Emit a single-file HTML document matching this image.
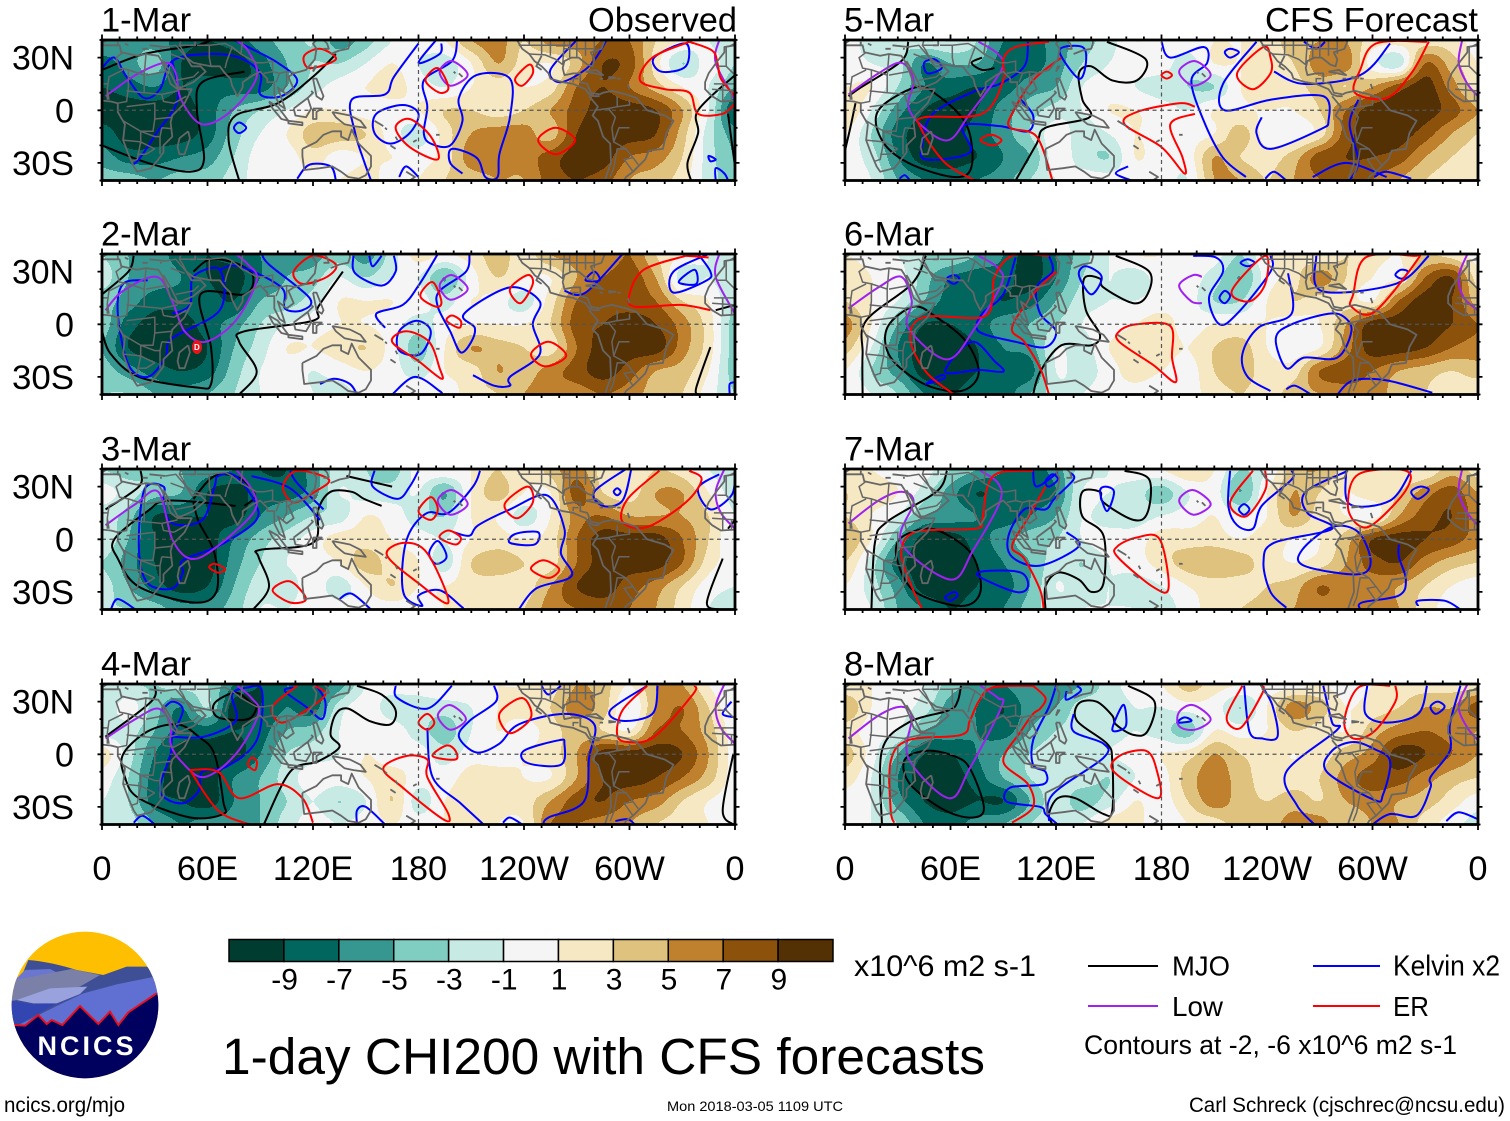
<!DOCTYPE html>
<html lang="en"><head><meta charset="utf-8"><title>1-day CHI200 with CFS forecasts</title>
<style>html,body{margin:0;padding:0;background:#fff}svg{display:block}text{font-family:"Liberation Sans",sans-serif;fill:#000}</style></head>
<body>
<svg id="chart" xmlns="http://www.w3.org/2000/svg" width="1510" height="1121" viewBox="0 0 1510 1121">
<rect width="1510" height="1121" fill="#fff"/>
<g id="panels"></g>
<g id="colorbar"></g>
<text x="854" y="976" font-size="30" textLength="182" lengthAdjust="spacingAndGlyphs">x10^6 m2 s-1</text>
<text x="222" y="1074" font-size="51" textLength="763" lengthAdjust="spacingAndGlyphs">1-day CHI200 with CFS forecasts</text>
<g>
<line x1="1088" x2="1158" y1="966" y2="966" stroke="#000" stroke-width="2"/>
<text x="1172" y="975.5" font-size="28" textLength="58" lengthAdjust="spacingAndGlyphs">MJO</text>
<line x1="1313" x2="1380" y1="966" y2="966" stroke="#0000ff" stroke-width="2"/>
<text x="1393" y="975.5" font-size="29" textLength="107" lengthAdjust="spacingAndGlyphs">Kelvin x2</text>
<line x1="1088" x2="1158" y1="1006" y2="1006" stroke="#a020f0" stroke-width="2"/>
<text x="1172" y="1016" font-size="28" textLength="51" lengthAdjust="spacingAndGlyphs">Low</text>
<line x1="1313" x2="1380" y1="1006" y2="1006" stroke="#ff0000" stroke-width="2"/>
<text x="1393" y="1016" font-size="28" textLength="36" lengthAdjust="spacingAndGlyphs">ER</text>
<text x="1084" y="1054" font-size="27" textLength="373" lengthAdjust="spacingAndGlyphs">Contours at -2, -6 x10^6 m2 s-1</text>
</g>
<text x="1189" y="1112" font-size="21" textLength="316" lengthAdjust="spacingAndGlyphs">Carl Schreck (cjschrec@ncsu.edu)</text>
<text x="4" y="1112" font-size="21" textLength="121" lengthAdjust="spacingAndGlyphs">ncics.org/mjo</text>
<text x="667" y="1111" font-size="14" textLength="176" lengthAdjust="spacingAndGlyphs">Mon 2018-03-05 1109 UTC</text>
<g>
<defs><clipPath id="logoClip"><circle cx="255" cy="240" r="220"/></clipPath></defs>
<g transform="translate(0,925) scale(0.33333)" clip-path="url(#logoClip)">
<rect x="0" y="0" width="520" height="500" fill="#fdbf00"/>
<path d="M20 260L85 105Q150 110 230 135L310 150L380 125L440 125L500 160V320H20Z" fill="#3f4f96"/>
<path d="M50 160L75 135L150 132L195 155L120 165L45 170Z" fill="#6a76d0"/>
<path d="M25 230L45 165L120 150L215 132L300 150L240 185L150 205Z" fill="#7b80a8"/>
<path d="M20 225L100 238L175 232L45 305H20Z" fill="#3345b0"/>
<path d="M45 305L180 238L250 205L350 178L465 155L490 210V320H45Z" fill="#6070d2"/>
<path d="M50 225L150 190L262 185L240 207L170 235L100 235Z" fill="#9aa2de"/>
<path d="M0 300H42L75 302L115 270L140 297L155 285L187 300L240 243L295 297L330 260L355 300L385 262L470 205L510 190V500H0Z" fill="#00005f"/>
<path d="M42 300L75 302L115 270L140 297L155 285L187 300L240 243L295 297L330 260L355 300L385 262L470 205" fill="none" stroke="#e81020" stroke-width="6"/>
</g>
<text x="87" y="1055" font-size="27" font-weight="bold" text-anchor="middle" letter-spacing="3" style="fill:#fff">NCICS</text>
</g>
</svg>
<script>
// Velocity potential anomaly grids: rows 40N..40S (7), columns 0..360 every 15 degrees (25)
const field1Mar=[
[-5,-6,-6,-8,-9,-8,-6,-4,-3,-6,-4,-1,0,1,5,6,3,6,6,7,7,3,1,-1,-3],
[-8,-6,-4,-9,-10,-10,-8,-5,-3,-3,-1,1,-1,-2,1,5,2,1,4,9,8,2,-3,0,-3],
[-9,-8,-7,-9,-8,-8,-8,-5,-2,0,1,2,0,-1,1,2,1,2,7,9,7,4,1,-1,-5],
[-10,-10,-10,-10,-8,-5,-3,-1,1,1,0,0,1,3,3,2,3,5,8,10,10,9,5,-1,-9],
[-8,-10,-10,-10,-8,-4,-1,1,4,4,3,0,-2,2,5,6,6,4,9,10,10,9,4,-2,-6],
[-6,-8,-8,-7,-6,-3,0,0,2,0,1,1,0,2,6,6,6,8,10,10,7,6,3,-2,-5],
[-4,-4,-5,-4,-4,-2,0,1,0,1,2,0,1,3,4,5,5,8,9,8,5,4,2,-2,-4]];
const field2Mar=[
[-3,-5,-6,-8,-9,-8,-7,-6,-6,-4,-6,-2,2,1,2,4,2,5,6,5,7,3,1,-1,-3],
[-2,-5,-6,-7,-9,-10,-7,-5,-4,-1,-3,-1,-1,-5,0,3,1,1,5,7,8,5,-2,-1,-3],
[-4,-6,-8,-8,-8,-9,-5,-4,-2,1,1,1,0,-2,1,0,-2,2,7,8,8,7,3,1,-3],
[-4,-8,-10,-10,-8,-6,-3,-1,0,1,1,0,-2,0,1,1,1,3,8,9,10,9,6,2,-4],
[-5,-9,-10,-10,-9,-5,-2,1,1,2,3,0,-4,1,5,4,3,2,7,10,10,10,6,2,-4],
[-4,-6,-8,-9,-8,-4,-1,0,-1,0,1,0,-2,1,2,5,4,6,8,10,8,5,4,1,-4],
[-3,-3,-5,-6,-5,-3,-1,0,-1,-2,0,0,1,0,2,3,5,6,6,7,6,4,3,0,-3]];
const field3Mar=[
[-3,-4,-3,-5,-6,-7,-9,-9,-6,-2,-3,-4,0,1,1,3,1,4,6,2,1,3,2,-1,-2],
[0,-2,-4,-5,-9,-10,-8,-8,-6,-1,-2,-2,-1,-5,1,4,1,1,8,3,2,5,5,1,-2],
[-2,-4,-9,-9,-9,-10,-7,-5,-3,-2,1,0,-2,-3,1,1,-2,1,6,7,5,5,5,3,-1],
[-1,-5,-9,-10,-10,-7,-4,-2,0,2,2,1,0,-1,1,2,1,2,7,10,10,10,7,3,-1],
[-3,-6,-9,-10,-10,-6,-3,-1,0,1,4,2,1,-2,3,4,3,2,7,10,10,10,7,2,0],
[-2,-5,-8,-10,-9,-5,-2,-2,0,-2,1,3,1,1,2,2,2,5,9,10,8,6,3,0,-1],
[-3,-3,-4,-6,-6,-4,-1,-1,0,0,0,0,0,1,1,2,3,6,7,8,7,5,2,-1,-2]];
const field4Mar=[
[-3,-3,-3,-2,-3,-7,-9,-7,-8,-6,-1,0,0,1,1,1,1,2,5,4,1,5,5,1,-1],
[-3,0,-4,-7,-3,-10,-9,-7,-8,-2,0,-2,-2,-2,-1,1,2,3,6,4,-1,5,7,3,-1],
[-2,-2,-5,-8,-8,-9,-8,-5,-4,-1,0,0,-2,-4,-1,1,0,2,4,3,1,7,7,4,0],
[2,-2,-7,-10,-10,-10,-7,-3,-2,-1,1,0,0,-2,0,0,1,2,5,10,10,10,9,5,0],
[0,-3,-8,-10,-10,-7,-5,-2,0,0,1,2,0,0,2,2,1,1,5,9,10,9,7,4,0],
[-1,-3,-8,-9,-10,-7,-5,-3,-1,-3,-1,3,-2,1,2,2,2,5,8,9,7,6,3,1,0],
[-2,-2,-5,-7,-6,-6,-5,-2,0,-1,0,1,0,1,3,1,1,7,7,6,5,3,2,1,0]];
const field5Mar=[
[0,-2,-3,-1,-1,-3,-7,-8,-6,-4,-2,1,0,0,1,1,2,4,5,5,2,2,2,2,0],
[0,-1,-2,-7,-5,-5,-8,-8,-6,-3,-1,0,0,-2,1,1,2,3,6,6,0,-2,7,4,1],
[1,1,-3,-7,-8,-9,-8,-6,-5,-1,0,-1,-2,-3,-3,1,2,2,4,3,5,8,10,6,2],
[3,-1,-6,-9,-10,-9,-6,-4,-2,-1,1,1,0,-1,1,1,1,1,3,7,10,10,10,8,5],
[1,-3,-8,-10,-10,-8,-6,-3,0,-2,-1,1,0,0,1,4,0,0,2,8,10,10,8,5,3],
[0,-2,-7,-10,-10,-9,-7,-5,0,-2,-3,1,0,0,5,3,2,4,8,9,9,8,5,3,2],
[0,-1,-5,-7,-8,-7,-6,-3,-1,0,0,0,0,-1,5,5,3,5,7,8,7,5,3,2,1]];
const field6Mar=[
[1,0,-1,-3,-3,-5,-7,-10,-7,-4,-1,1,1,0,0,-3,1,2,1,3,2,1,3,2,0],
[3,1,0,-4,-7,-8,-8,-10,-7,-3,-1,-2,0,0,-2,-5,0,2,6,3,1,1,7,9,2],
[3,1,-1,-5,-8,-8,-9,-8,-5,-2,-1,-1,0,0,-3,-3,1,3,2,2,1,7,10,9,4],
[6,1,-5,-9,-9,-8,-6,-5,-3,-1,0,1,2,0,1,1,1,0,1,5,10,10,10,9,7],
[4,-1,-7,-10,-10,-9,-7,-6,-1,-2,1,2,2,1,3,4,1,0,1,6,10,10,9,7,6],
[1,-3,-6,-10,-10,-9,-8,-8,-1,-2,0,2,1,0,3,4,2,2,7,8,7,5,4,3,4],
[1,-1,-3,-7,-9,-8,-8,-5,-2,-1,0,0,-1,0,2,3,2,4,5,6,6,4,3,2,1]];
const field7Mar=[
[1,1,0,0,-3,-5,-7,-8,-6,-2,-1,0,1,3,1,-3,-1,4,5,2,1,1,1,4,2],
[3,2,1,-2,-6,-9,-8,-8,-7,-1,-1,-2,-4,-1,0,-5,1,5,3,1,2,3,6,8,5],
[3,1,-1,-5,-6,-7,-8,-7,-5,-1,-2,-2,-1,0,1,-1,1,5,2,1,0,5,8,9,6],
[5,1,-5,-10,-10,-8,-6,-4,-3,-1,0,0,2,2,2,1,2,1,1,4,9,10,9,8,6],
[3,-2,-8,-10,-10,-9,-7,-5,-2,-3,-1,0,2,4,5,4,2,1,2,5,8,9,6,4,3],
[1,-2,-6,-10,-10,-9,-8,-5,-1,-2,-1,-2,-1,1,2,2,3,4,7,6,6,5,3,1,0],
[0,-1,-5,-7,-9,-8,-7,-4,-2,-1,-1,-1,-2,0,2,3,4,5,6,6,7,5,2,0,0]];
const field8Mar=[
[1,1,0,-1,-4,-6,-7,-5,-6,-5,-2,0,1,4,2,1,0,0,1,0,1,2,2,2,2],
[5,1,0,-2,-6,-7,-9,-6,-5,-2,-2,-1,-1,0,0,-3,1,6,4,1,2,3,5,5,8],
[2,0,-1,-5,-6,-7,-8,-5,-3,-2,-2,-1,-2,-4,1,0,1,3,2,1,4,6,7,6,5],
[4,0,-5,-9,-9,-7,-5,-3,-2,-2,-1,0,1,2,5,3,2,1,2,4,6,10,9,7,5],
[2,-1,-7,-10,-10,-8,-5,-3,-2,-2,-3,-1,0,4,6,4,2,2,3,6,8,8,6,4,3],
[0,-1,-6,-9,-10,-9,-9,-5,-2,-4,-2,1,0,3,6,4,3,4,3,5,6,5,4,2,0],
[-1,-1,-3,-7,-8,-6,-5,-3,-2,-1,2,2,-1,1,2,4,4,6,6,3,5,5,2,0,-2]];
const panelFields=[field1Mar,field2Mar,field3Mar,field4Mar,field5Mar,field6Mar,field7Mar,field8Mar];
const panelDates=["1-Mar","2-Mar","3-Mar","4-Mar","5-Mar","6-Mar","7-Mar","8-Mar"];
const colorClasses=["#003c30","#01665e","#35978f","#80cdc1","#c7eae5","#f5f5f5","#f6e8c3","#dfc27d","#bf812d","#8c510a","#543005"];
const colorTicks=["-9","-7","-5","-3","-1","1","3","5","7","9"];
const lonTickLabels=["0","60E","120E","180","120W","60W","0"];
const lonTickValues=[0,60,120,180,240,300,360];
const latTickLabels=["30N","0","30S"];
const latTickValues=[30,0,-30];

// Contours as [lon, lat] polylines per panel
const mjoContours=[
[[[0,23],[24,32],[54,37],[62,40]],[[81,22],[57,16],[54,0],[58,-28],[50,-35],[26,-30],[0,-20]],[[133,32],[121,20],[100,4],[76,-3],[72,-17],[78,-40]],[[335,-40],[333,-30],[339,-13],[339,0],[360,20]],[[356,-2],[360,-32]]],
[[[18,39],[15,30],[0,17]],[[52,30],[62,37],[78,34],[86,27],[81,17],[56,17],[62,-13],[62,-34],[54,-36],[21,-30],[5,-17],[0,-4]],[[137,30],[123,10],[120,2],[81,-4],[78,-10],[88,-27],[78,-40]],[[360,11],[349,8]],[[346,-13],[338,-36],[339,-40]]],
[[[22,39],[21,30],[2,17]],[[52,23],[64,36],[78,35],[87,25],[81,19]],[[76,19],[38,22],[26,16],[7,0],[9,-11],[21,-27],[52,-36],[65,-30],[64,-8],[55,10],[52,21]],[[139,36],[152,33],[165,30]],[[159,19],[149,23],[142,27],[130,27],[123,17],[120,-2],[90,-6],[89,-10],[95,-27],[86,-40]],[[360,11],[356,6]],[[353,-11],[344,-36],[351,-40]]],
[[[30,39],[28,30],[2,10]],[[55,10],[43,17],[26,13],[12,0],[13,-13],[21,-25],[50,-36],[69,-34],[69,-27],[64,0],[55,10]],[[85,29],[76,35],[64,29],[66,21],[83,20],[88,27],[85,29]],[[145,39],[159,34],[167,25],[164,17],[152,19],[140,26],[133,23],[130,11],[135,4],[123,-4],[107,-10],[92,-40]],[[359,0],[353,-32],[359,-40]]],
[[[36,39],[32,28],[9,13],[2,8]],[[6,4],[3,-10],[0,-23]],[[40,13],[19,0],[21,-17],[36,-30],[62,-38],[72,-32],[69,-8],[52,9],[40,13]],[[78,30],[72,27],[78,23],[85,24]],[[149,39],[171,29],[166,17],[152,17],[140,25],[133,21],[135,6],[139,-4],[114,-10],[109,-19],[97,-40]]],
[[[46,39],[38,23],[12,2],[10,-17],[10,-40]],[[39,10],[24,-2],[26,-19],[45,-34],[66,-38],[76,-28],[69,-10],[52,4],[39,10]],[[154,39],[173,30],[172,17],[164,12],[147,21],[145,26],[136,26],[137,8],[145,-6],[140,-12],[123,-12],[111,-27],[107,-40]]],
[[[58,39],[52,27],[24,10],[17,-2],[15,-40]],[[46,6],[31,0],[30,-13],[40,-30],[66,-38],[77,-30],[73,-10],[59,2],[46,6]],[[159,39],[173,34],[172,15],[164,11],[147,21],[145,27],[135,27],[135,13],[147,2],[147,-25],[140,-30],[133,-23],[121,-19],[114,-27],[114,-40]]],
[[[66,39],[64,30],[59,25],[36,18],[21,2],[21,-40]],[[47,2],[34,-3],[37,-17],[57,-32],[73,-36],[79,-30],[71,-8],[62,-1],[47,2]],[[161,39],[176,30],[172,13],[164,11],[154,17],[152,22],[143,30],[133,29],[132,19],[149,6],[152,-4],[152,-32],[147,-34],[131,-25],[121,-25],[116,-34],[118,-40]]]
];
const kelvinContours=[
[[[0,24],[7,30],[14,19],[24,7],[33,12],[40,28],[59,32],[78,30],[90,21],[90,9],[102,8],[111,17],[100,27],[85,35],[75,40]],[[40,28],[43,6],[31,-13],[21,-28],[17,-31]],[[78,-7],[75,-10],[78,-13],[82,-10],[78,-7]],[[180,38],[166,19],[161,9],[142,6],[144,-13],[149,-29],[153,-40]],[[171,3],[156,-2],[155,-13],[164,-19],[175,-13],[180,-2],[171,3]],[[190,40],[180,27],[192,32],[193,38]],[[202,40],[199,28],[183,17],[185,2],[183,-13],[187,-19],[198,-20],[205,-6],[203,7],[213,20],[232,18],[232,-4],[226,-25],[225,-38],[218,-38],[213,-27],[199,-22],[198,-30],[205,-36]],[[111,-39],[118,-31],[130,-32],[133,-40]],[[169,-38],[173,-32],[180,-38]],[[270,40],[255,23],[261,16],[277,25],[287,40]],[[332,38],[314,30],[318,22],[332,25],[332,38]],[[345,-26],[349,-28],[346,-29],[345,-26]],[[349,-40],[349,-33],[354,-36],[356,-40]]],
[[[26,25],[12,23],[9,6],[15,-23],[26,-30],[36,-19],[40,-8],[67,8],[67,31],[52,27],[50,11],[40,6]],[[67,31],[78,33],[102,21],[104,9],[114,8],[118,15],[95,34],[91,40]],[[143,39],[144,29],[159,22],[167,30],[166,39]],[[152,39],[154,33],[159,39]],[[191,40],[180,22],[171,11],[156,6],[161,-2]],[[209,40],[207,30],[192,19],[191,10],[198,-4],[204,-16],[210,-10],[212,-2],[206,6],[232,21],[249,13],[245,0],[249,-17],[232,-30],[232,-35],[223,-35],[211,-29]],[[179,2],[169,-4],[169,-15],[181,-17],[187,-4],[179,2]],[[124,-34],[132,-31],[141,-34],[145,-40]],[[165,-40],[178,-30],[192,-38],[193,-40]],[[296,40],[275,18],[263,19]],[[280,30],[275,25],[283,25],[280,30]],[[345,40],[325,30],[325,18],[344,25],[346,30],[339,40]],[[337,31],[328,24],[338,23],[337,31]],[[357,-40],[357,-34],[360,-33]]],
[[[35,30],[24,28],[21,-6],[26,-25],[40,-28],[46,-19],[46,-12],[66,-4],[87,10],[87,21],[76,36],[66,36],[64,30],[57,11],[40,9],[35,21],[35,30]],[[85,36],[107,29],[124,11]],[[107,39],[111,32],[126,17]],[[155,39],[154,30],[168,23],[175,30],[180,39]],[[215,39],[211,30],[197,15],[185,15],[175,4],[171,-13],[172,-32],[182,-38],[180,-32],[192,-29],[204,-38],[206,-40]],[[200,4],[209,2],[214,8],[232,17],[253,25],[263,6],[261,-8],[267,-21],[247,-28],[237,-40]],[[235,3],[232,-2],[246,-3],[248,4],[235,3]],[[191,-1],[186,-8],[190,-14],[196,-10],[191,-1]],[[298,40],[280,27],[285,19],[296,22],[301,40]],[[293,29],[291,27],[293,25],[295,27],[293,29]],[[351,37],[339,29],[346,17],[358,25],[360,36]],[[5,-40],[9,-34],[19,-40]],[[135,-34],[142,-31],[153,-40]]],
[[[34,25],[40,30],[46,25],[40,10],[39,0],[33,-21],[45,-28],[55,-21],[57,-10],[71,-7],[88,8],[91,36],[83,38],[74,34],[76,19],[58,10],[40,10]],[[109,38],[104,36],[116,27],[125,20],[127,30],[122,39]],[[167,39],[168,32],[185,26],[199,39]],[[223,39],[224,30],[209,19],[203,10],[213,1],[226,6],[237,17],[263,23],[280,17],[277,-2],[274,-27],[254,-36],[251,-40]],[[185,15],[188,-13],[204,-28],[217,-40]],[[260,8],[240,2],[242,-5],[261,-6],[263,6],[260,8]],[[250,39],[254,34],[261,39]],[[310,39],[289,25],[296,19],[313,23],[316,39]],[[145,-40],[145,-32],[150,-30],[161,-40]],[[18,-39],[23,-35],[30,-40]],[[228,-39],[232,-36],[239,-40]],[[292,-38],[299,-37],[303,-40]],[[358,30],[353,23],[360,21]]],
[[[51,29],[45,27],[47,21],[55,24],[51,29]],[[104,39],[102,25],[88,15],[74,11],[50,-2],[44,-19],[46,-28],[71,-24],[67,-9],[88,-9],[104,-12],[107,-3],[100,6]],[[122,34],[133,18],[137,27],[135,36],[122,34]],[[180,39],[185,30],[204,36],[206,27],[197,17],[204,-6],[215,-27],[228,-38]],[[234,39],[215,15],[216,0],[242,6],[272,8],[275,-6],[270,-11],[242,-22],[234,-13],[237,-4]],[[244,22],[261,15],[293,20],[310,38]],[[261,39],[268,35],[273,39]],[[219,35],[216,33],[219,30],[224,33],[219,35]],[[161,-32],[154,-36],[163,-40]],[[292,6],[287,-8],[292,-29],[287,-40]],[[239,-39],[244,-35],[251,-40]],[[266,-38],[285,-30],[308,-38]],[[301,-38],[308,-35],[322,-39]],[[31,-39],[34,-37],[37,-40]]],
[[[62,28],[58,26],[62,23],[65,26],[62,28]],[[116,39],[118,30],[109,21],[111,6],[120,-4],[114,-13],[97,-10],[76,-4],[78,6],[90,17],[97,38]],[[137,33],[133,28],[140,17],[146,27],[137,33]],[[72,-10],[57,-27],[76,-26],[90,-27],[85,-21],[72,-10]],[[55,-29],[46,-34],[56,-31],[55,-29]],[[198,39],[211,38],[215,30],[207,15],[213,0],[223,6],[242,30],[242,39]],[[229,37],[225,35],[229,33],[233,35],[229,37]],[[216,19],[213,15],[216,12],[219,16],[216,19]],[[332,39],[313,23],[271,19],[268,39]],[[252,29],[254,6],[235,-2],[226,-17],[229,-30],[242,-38]],[[275,6],[254,0],[245,-8],[251,-25],[261,-19],[280,-19],[288,-4],[284,4],[275,6]],[[316,31],[313,28],[317,26],[320,30],[316,31]],[[280,-40],[289,-32],[308,-32],[334,-39]],[[251,-37],[256,-35],[265,-40]]],
[[[128,38],[130,34],[119,23],[114,17],[102,17],[93,2],[95,-10],[111,-15],[133,-4],[126,4]],[[118,37],[114,33],[116,30],[121,34],[118,37]],[[107,39],[109,30],[121,38]],[[148,30],[145,27],[149,16],[153,27],[148,30]],[[219,39],[218,19],[223,8],[232,6],[237,19],[254,34],[254,39]],[[227,20],[224,17],[227,14],[230,17],[227,20]],[[322,39],[310,22],[287,20],[285,39]],[[286,39],[262,27],[263,15],[277,6],[244,-2],[238,-13],[242,-30],[251,-39]],[[327,30],[322,27],[326,23],[332,28],[327,30]],[[277,7],[260,-6],[261,-15],[291,-20],[299,-13],[292,4],[277,7]],[[315,-3],[315,-10],[319,-23],[315,-32],[294,-36],[293,-40]],[[81,-18],[76,-21],[97,-30],[104,-27],[100,-19],[81,-18]],[[62,-30],[57,-33],[60,-35],[64,-32],[62,-30]],[[326,-38],[326,-35],[341,-35],[350,-40]]],
[[[120,39],[116,27],[107,8],[107,-6],[114,-10],[113,-17],[94,-19],[92,-27],[111,-30],[114,-34],[121,-40]],[[126,36],[126,31],[134,36],[132,39]],[[130,23],[130,13],[147,6],[147,-2],[118,-23],[116,-38]],[[158,28],[152,14],[159,15],[160,21],[158,28]],[[193,21],[189,18],[197,19],[193,21]],[[227,39],[230,13],[237,9],[246,10],[243,28],[237,39]],[[272,39],[277,18],[280,14],[251,-10],[257,-29],[267,-40]],[[297,39],[296,23],[308,18],[326,23],[331,39]],[[337,30],[333,27],[336,23],[341,27],[337,30]],[[289,7],[277,2],[274,-10],[301,-26],[306,-23],[310,-4],[301,3],[289,7]],[[300,-40],[310,-34],[325,-35],[333,-19],[333,-13],[344,2],[344,17],[350,39]],[[342,-38],[349,-33],[360,-37]]]
];
const lowContours=[
[[[2,8],[19,20],[36,27],[42,21],[45,6],[57,-8],[74,0],[88,19],[83,34],[76,40]],[[199,28],[192,22],[198,14],[208,20],[199,28]],[[351,40],[349,27],[360,6]]],
[[[2,8],[12,19],[31,27],[40,13],[47,-4],[59,-10],[76,2],[88,25],[83,34],[76,40]],[[199,28],[192,22],[198,14],[208,20],[199,28]],[[351,40],[349,27],[360,6]]],
[[[2,8],[19,20],[32,27],[40,0],[50,-11],[63,-6],[86,15],[86,27],[76,40]],[[199,28],[191,22],[198,14],[208,20],[199,28]],[[354,40],[349,27],[352,15],[360,6]]],
[[[2,9],[19,20],[32,26],[39,17],[39,6],[45,-4],[58,-13],[76,0],[89,23],[85,32],[77,39]],[[198,28],[191,22],[198,14],[207,20],[198,28]],[[354,40],[349,27],[352,15],[360,6]]],
[[[2,9],[19,21],[32,27],[39,17],[36,2],[45,-10],[59,-17],[71,-2],[89,23],[87,32],[76,39]],[[199,28],[190,22],[198,14],[208,20],[199,28]],[[351,40],[349,27],[354,15],[360,8]]],
[[[2,9],[19,21],[32,27],[38,13],[36,-2],[58,-20],[74,-2],[89,23],[87,32],[76,39]],[[203,27],[198,28],[190,22],[197,13],[203,12]],[[354,40],[349,27],[352,15],[360,8]]],
[[[2,9],[19,22],[32,27],[39,21],[32,-2],[60,-23],[73,-6],[88,21],[87,32],[77,39]],[[198,28],[190,22],[198,14],[208,20],[198,28]],[[351,40],[349,27],[354,15],[360,8]]],
[[[2,9],[19,22],[32,27],[38,21],[36,-2],[59,-25],[71,-8],[89,27],[87,32],[77,39]],[[198,28],[190,24],[190,16],[199,14],[208,20],[198,28]],[[354,40],[349,27],[354,15],[360,8]]]
];
const erContours=[
[[[124,35],[115,31],[118,24],[133,29],[124,35]],[[191,24],[184,17],[192,10],[197,13],[191,24]],[[243,26],[235,18],[239,14],[245,21],[243,26]],[[175,-5],[167,-10],[175,-21],[191,-28],[187,-15],[175,-5]],[[258,-10],[248,-17],[258,-25],[269,-17],[258,-10]],[[334,39],[313,30],[306,17],[320,12],[334,10],[339,-2],[353,-2],[360,4]],[[334,39],[347,34],[350,27],[352,18],[360,8]]],
[[[120,39],[109,30],[114,23],[128,27],[133,34],[120,39]],[[188,24],[181,16],[190,10],[193,13],[188,24]],[[199,5],[196,2],[203,-2],[204,2],[199,5]],[[242,28],[232,20],[238,12],[245,23],[242,28]],[[173,-4],[165,-10],[180,-21],[193,-31],[192,-25],[186,-10],[173,-4]],[[254,-10],[244,-17],[252,-24],[264,-18],[254,-10]],[[332,39],[308,31],[300,17],[303,10],[329,11],[346,8]],[[332,39],[345,38]]],
[[[111,39],[103,30],[109,21],[121,27],[129,34],[111,39]],[[187,24],[180,16],[187,11],[191,17],[187,24]],[[242,30],[229,20],[236,12],[245,21],[242,30]],[[197,5],[192,1],[201,-3],[204,1],[197,5]],[[172,-2],[162,-9],[180,-25],[197,-36],[185,-8],[172,-2]],[[64,-14],[61,-16],[66,-19],[70,-17],[64,-14]],[[251,-12],[244,-17],[254,-22],[260,-17],[251,-12]],[[107,-24],[97,-29],[107,-36],[116,-34],[107,-24]],[[317,39],[299,23],[296,10],[310,7],[332,21],[341,34],[334,39]]],
[[[111,39],[97,27],[102,18],[116,25],[127,34],[121,39]],[[185,23],[180,18],[185,14],[189,18],[185,23]],[[239,32],[226,23],[232,12],[244,21],[239,32]],[[196,5],[188,-1],[201,-3],[201,2],[196,5]],[[85,-2],[83,-6],[87,-9],[88,-4],[85,-2]],[[173,-1],[160,-8],[171,-19],[194,-37],[197,-34],[185,-13],[185,-3],[173,-1]],[[337,39],[336,34],[314,10],[299,7],[293,11],[296,25],[310,39]],[[50,-9],[66,-10],[78,-25],[100,-17],[114,-25],[120,-39]],[[50,-9],[66,-32],[84,-40]]],
[[[116,39],[97,36],[90,29],[90,17],[78,-2],[45,-4],[43,-10],[57,-30],[74,-40]],[[123,30],[107,17],[95,-2],[94,-10],[109,-15],[118,-40]],[[83,-14],[77,-17],[84,-20],[89,-17],[83,-14]],[[183,22],[180,20],[183,18],[186,20],[183,22]],[[238,36],[223,21],[232,12],[242,21],[242,30],[238,36]],[[199,2],[190,4],[166,-1],[159,-8],[180,-21],[193,-36],[192,-27],[185,-8],[199,-2]],[[331,39],[302,38],[293,23],[290,10],[308,7],[322,21],[332,39]]],
[[[116,39],[95,39],[85,27],[84,15],[78,4],[45,4],[37,-8],[46,-27],[62,-40]],[[120,30],[107,17],[95,-2],[102,-10],[111,-25],[116,-40]],[[185,-1],[166,0],[156,-4],[156,-10],[175,-23],[188,-33],[186,-19],[185,-1]],[[239,39],[220,19],[230,13],[239,23],[239,39]],[[323,39],[296,38],[289,17],[288,10],[301,7],[325,36],[323,39]]],
[[[107,39],[88,38],[81,30],[78,11],[74,6],[40,4],[32,-8],[38,-27],[44,-40]],[[114,30],[104,12],[95,-4],[102,-11],[111,-29],[113,-40]],[[179,0],[166,1],[155,-4],[155,-10],[175,-27],[184,-28],[179,0]],[[232,39],[219,21],[228,13],[239,28],[239,39]],[[319,39],[292,37],[286,19],[292,8],[301,9],[319,28],[319,39]]],
[[[107,39],[84,38],[76,30],[71,19],[66,11],[36,8],[26,-4],[26,-32],[28,-39]],[[107,39],[114,32],[111,26],[107,23],[100,13],[90,-4],[104,-17],[107,-30],[95,-39]],[[171,2],[156,-1],[153,-10],[178,-25],[177,-8],[171,2]],[[226,39],[217,21],[225,15],[237,34],[238,39]],[[310,39],[292,38],[284,19],[289,9],[301,13],[313,30],[313,39]]]
];
const cyclonePositions=[[],[[54,-13]],[],[],[],[],[],[]];

// Simplified geography as [lon, lat] polylines
const coastLines=[
[[0,37],[10,37],[11,33],[20,31],[25,32],[32,31],[34,28],[37,21],[39,15],[43,12],[51,12],[47,4],[40,-3],[39,-7],[40,-15],[35,-20],[35,-24],[32,-28],[28,-33],[20,-35],[18,-32],[15,-25],[12,-17],[13,-8],[9,-1],[9,4],[5,5],[0,5.5]],
[[360,5.5],[352,5],[347,8],[343,12],[343,16],[345,21],[350,28],[354,33],[354,36],[360,37]],
[[49,-12],[50,-16],[47,-25],[44,-25],[43,-21],[44,-16],[49,-12]],
[[35,28],[39,21],[43,13],[45,13],[52,16],[59,22],[56,25],[51,25],[48,30],[52,27],[57,26],[62,25],[67,25],[70,21],[73,18],[74,14],[77,8],[80,13],[80,16],[86,20],[90,22],[94,18],[94,16],[98,16],[98,9],[101,3],[104,1],[102,7],[100,13],[105,9],[109,12],[106,19],[109,21],[116,23],[121,29],[122,35],[120,38],[122,40]],
[[95,5],[100,2],[106,-6],[102,-5],[97,1],[95,5]],[[109,1],[117,7],[119,1],[116,-4],[110,-3],[109,1]],[[106,-6],[114,-7],[114,-8.5],[106,-7.5],[106,-6]],
[[120,1],[125,1],[122,-1],[122,-5],[120,-5],[120,1]],[[131,-1],[141,-3],[147,-6],[150,-10],[143,-9],[138,-8],[133,-4],[131,-1]],
[[120,18],[122,18],[124,13],[126,8],[125,6],[122,8],[121,13],[120,18]],[[117,7],[120,10],[119,11]],[[130,32],[135,34],[140,35],[141,38],[141,40]],[[126,35],[129,35],[128,38],[126,40]],[[120,22],[122,25],[121,25],[120,22]],
[[114,-22],[122,-18],[126,-14],[131,-12],[136,-12],[136,-15],[140,-17],[142,-11],[146,-19],[153,-26],[153,-32],[150,-37],[146,-39],[140,-38],[136,-35],[131,-32],[124,-33],[115,-34],[114,-26],[114,-22]],
[[173,-35],[178,-38],[175,-40]],[[171,-40],[173,-40]],[[155,-6],[160,-9]],[[161,-10],[162,-11]],[[167,-15],[168,-17]],[[164,-20],[167,-22]],[[177,-18],[179,-17]],[[200,22],[201,21]],[[203,21],[205,19]],[[190,-14],[192,-14]],
[[236,40],[239,35],[243,32],[246,28],[250,25],[254,21],[255,18],[262,16],[268,15],[275,12],[277,9],[280,8],[283,8]],
[[283,9],[278,10],[276,15],[272,16],[272,21],[268,21],[263,20],[262,24],[263,28],[267,30],[271,30],[276,26],[279,25],[280,29],[278,33],[284,35],[286,40]],
[[250,31],[247,25],[250,23]],[[275,22],[285,20],[281,23],[275,22]],[[288,19],[292,18.5],[288,18]],[[283,18],[285,18]],[[293,18],[295,18]],[[299,15],[300,12]],
[[277,8],[282,2],[279,-3],[282,-6],[285,-15],[289,-19],[289.5,-30],[287,-37],[286,-40]],[[297,-40],[298,-38],[302,-35],[309,-28],[311,-23],[319,-22],[321,-13],[325,-6],[320,-3],[310,0],[304,7],[298,9],[290,11],[285,10],[283,9]],
[[27,37],[36,36]],[[50,37],[53,37],[53,40]],[[9,37],[9,39]],[[15,37],[13,38]],[[33,35],[34,35]],[[23,35],[26,35]],[[356,36],[360,38]],[[0,38],[3,40]]
];
const borderLines=[
[[12,33],[8,30],[10,24],[15,23],[24,20],[25,32]],[[25,20],[36,22]],[[24,20],[24,10],[34,9],[35,5],[41,4]],[[15,23],[15,13],[14,5],[9,4]],[[14,11],[24,10]],[[4,6],[3,12],[4,19],[12,23]],[[14,2],[30,4],[30,-5],[29,-12],[22,-12],[12,-6]],[[22,-18],[12,-17]],[[22,-18],[20,-28],[17,-29]],[[30,-22],[25,-25],[20,-25]],[[30,-5],[40,-4]],[[34,-10],[40,-10.5]],[[34,-10],[33,-15],[30,-15],[22,-12]],[[33,-15],[33,-25]],[[22,-12],[22,-18],[30,-22]],[[34,9],[43,11]],[[41,4],[48,8]],
[[36,36],[42,37],[48,30]],[[45,40],[44,37],[46,34],[48,30]],[[61,37],[61,30],[62,25]],[[61,37],[70,38],[74,36],[71,28],[70,24]],[[74,36],[79,32],[88,27],[92,27],[97,28],[97,22],[92,21]],[[97,22],[101,21],[105,22],[109,21.5]],[[101,21],[99,16]],[[105,22],[105,15],[103,11]],[[44,37],[50,37]],[[39,32],[47,29]],[[55,22],[52,19]],[[80,42],[88,40]],[[42,17],[52,19]],[[79,32],[80,40]],[[61,37],[54,37]],
[[243,32],[252,31.5],[258,29],[262,26]],[[237,37],[266,37]],[[250,32],[250,40]],[[255,31],[255,40]],[[262,26],[263,40]],[[270,30],[270,40]],[[275,31],[275,40]],[[280,32],[280,40]],[[243,37],[243,40]],[[266,30],[266,40]],[[263,35],[280,35]],[[268,16],[268,18],[271,18]],
[[288,1],[292,-4],[290,-10],[291,-18],[298,-22],[302,-27],[305,-31]],[[280,0],[288,1],[293,2],[293,8]],[[293,2],[300,3],[300,6]],[[291,-18],[294,-10],[300,-10]],[[298,-22],[293,-22],[291,-33],[289,-38]],[[302,-27],[297,-28],[302,-35]],
[[348,15],[355,15],[360,15]],[[350,25],[355,25],[360,20]],[[358,5],[358,11]],[[353,5],[353,15]],[[347,12],[360,11]],[[355,25],[355,36]],[[0,15],[3,15]],[[3,12],[3,6]]
];

const svgNS="http://www.w3.org/2000/svg";
const PANEL_W=633,PANEL_H=140.5;
const leftX=102,rightX=845;
const panelTops=[40,254,469,684];
function make(tag,parent,attrs){
  const el=document.createElementNS(svgNS,tag);
  for(const k in attrs)el.setAttribute(k,attrs[k]);
  parent.appendChild(el);
  return el;
}
function xScale(lon,x0){return x0+lon/360*PANEL_W;}
function yScale(lat,y0){return y0+(40-lat)/80*PANEL_H;}
function cr(p0,p1,p2,p3,t){
  return 0.5*((2*p1)+(-p0+p2)*t+(2*p0-5*p1+4*p2-p3)*t*t+(-p0+3*p1-3*p2+p3)*t*t*t);
}
function sampleField(grid,lon,lat){
  const ny=grid.length,nx=grid[0].length;
  const fx=lon/360*(nx-1),fy=(40-lat)/80*(ny-1);
  const ix=Math.max(0,Math.min(nx-2,Math.floor(fx))),iy=Math.max(0,Math.min(ny-2,Math.floor(fy)));
  const tx=fx-ix,ty=fy-iy,vals=[];
  for(let j=-1;j<=2;j++){
    const r=grid[Math.max(0,Math.min(ny-1,iy+j))];
    vals.push(cr(r[Math.max(0,ix-1)],r[ix],r[ix+1],r[Math.min(nx-1,ix+2)],tx));
  }
  return cr(vals[0],vals[1],vals[2],vals[3],ty);
}
function classOf(v){return Math.max(0,Math.min(colorClasses.length-1,Math.floor((v+11)/2)));}
function smoothPath(pts,x0,y0){
  const p=pts.map(q=>[xScale(q[0],x0),yScale(q[1],y0)]);
  const closed=pts.length>3&&pts[0][0]===pts[pts.length-1][0]&&pts[0][1]===pts[pts.length-1][1];
  const n=p.length;
  const at=i=>closed?p[((i%(n-1))+(n-1))%(n-1)]:p[Math.max(0,Math.min(n-1,i))];
  let d="M"+p[0][0].toFixed(1)+" "+p[0][1].toFixed(1);
  for(let i=0;i<n-1;i++){
    const a=at(i-1),b=at(i),c=at(i+1),e=at(i+2);
    d+="C"+(b[0]+(c[0]-a[0])/6).toFixed(1)+" "+(b[1]+(c[1]-a[1])/6).toFixed(1)+" "+(c[0]-(e[0]-b[0])/6).toFixed(1)+" "+(c[1]-(e[1]-b[1])/6).toFixed(1)+" "+c[0].toFixed(1)+" "+c[1].toFixed(1);
  }
  return d;
}
function straightPath(pts,x0,y0){
  return pts.map((q,i)=>(i?"L":"M")+xScale(q[0],x0).toFixed(1)+" "+yScale(q[1],y0).toFixed(1)).join("");
}
const root=document.getElementById("panels");
const defs=make("defs",root,{});
panelFields.forEach(function(grid,pi){
  const x0=pi<4?leftX:rightX,y0=panelTops[pi%4];
  const g=make("g",root,{});
  
  
  const clip=make("clipPath",defs,{id:"clip"+pi});
  make("rect",clip,{x:x0,y:y0,width:PANEL_W,height:PANEL_H});
  const body=make("g",g,{"clip-path":"url(#clip"+pi+")"});
  // filled bands, one pixel row at a time
  const bandPaths=colorClasses.map(()=>[]);
  for(let py=0;py<141;py++){
    const lat=40-(py+0.5)/PANEL_H*80;
    let runStart=0,runCls=classOf(sampleField(grid,0.5/PANEL_W*360,lat));
    for(let px=1;px<PANEL_W;px++){
      const cls=classOf(sampleField(grid,(px+0.5)/PANEL_W*360,lat));
      if(cls!==runCls){
        bandPaths[runCls].push("M"+(x0+runStart)+" "+(y0+py)+"h"+(px-runStart)+"v1h"+(runStart-px)+"z");
        runStart=px;runCls=cls;
      }
    }
    bandPaths[runCls].push("M"+(x0+runStart)+" "+(y0+py)+"h"+(PANEL_W-runStart)+"v1h"+(runStart-PANEL_W)+"z");
  }
  bandPaths.forEach(function(parts,ci){
    if(!parts.length)return;
    const band=make("path",body,{d:parts.join(""),fill:colorClasses[ci],"shape-rendering":"crispEdges"});
    
    
  });
  // wave contours
  [[mjoContours,"#000000"],[kelvinContours,"#0000ff"],[lowContours,"#a020f0"],[erContours,"#ff0000"]].forEach(function(s){
    s[0][pi].forEach(function(pts){
      const line=make("path",body,{d:smoothPath(pts,x0,y0),fill:"none",stroke:s[1],"stroke-width":2,"stroke-linejoin":"round"});
      
      
    });
  });
  // geography
  const coast=make("path",body,{d:coastLines.map(l=>straightPath(l,x0,y0)).join(""),fill:"none",stroke:"#666","stroke-width":1.8,"stroke-linejoin":"round"});
  
  
  const border=make("path",body,{d:borderLines.map(l=>straightPath(l,x0,y0)).join(""),fill:"none",stroke:"#666","stroke-width":1.5});
  
  
  // reference dashes
  const eq=make("line",body,{x1:x0,x2:x0+PANEL_W,y1:yScale(0,y0),y2:yScale(0,y0),stroke:"#555","stroke-width":1.2,"stroke-dasharray":"4 3.5"});
  
  
  const dl=make("line",body,{x1:xScale(180,x0),x2:xScale(180,x0),y1:y0,y2:y0+PANEL_H,stroke:"#555","stroke-width":1.2,"stroke-dasharray":"4 3.5"});
  
  
  // cyclone marker
  cyclonePositions[pi].forEach(function(c){
    const mk=make("ellipse",body,{cx:xScale(c[0],x0),cy:yScale(c[1],y0),rx:5,ry:7,fill:"#e8141c"});
    
    
    const mt=make("text",body,{x:xScale(c[0],x0),y:yScale(c[1],y0)+3,"font-size":8,"font-weight":"bold","text-anchor":"middle",style:"fill:#fff"});
    mt.textContent="D";
    
    
  });
  // frame
  const frame=make("rect",g,{x:x0,y:y0,width:PANEL_W,height:PANEL_H,fill:"none",stroke:"#000","stroke-width":2.8});
  
  
  // ticks
  let td="";
  for(let lon=0;lon<=360;lon+=10){
    const len=lon%60===0?5.5:3.5,x=xScale(lon,x0);
    td+="M"+x.toFixed(1)+" "+y0+"v"+(-len)+"M"+x.toFixed(1)+" "+(y0+PANEL_H)+"v"+len;
  }
  for(let lat=-40;lat<=40;lat+=10){
    const len=lat%30===0?4.5:2.5,y=yScale(lat,y0);
    td+="M"+x0+" "+y.toFixed(1)+"h"+(-len)+"M"+(x0+PANEL_W)+" "+y.toFixed(1)+"h"+len;
  }
  const ticks=make("path",g,{d:td,stroke:"#000","stroke-width":1.8,fill:"none"});
  
  
  // date label
  const dt=make("text",g,{x:x0-1,y:y0-8.5,"font-size":34.5});
  dt.textContent=panelDates[pi];
  
  
  if(pi===0||pi===4){
    const cap=make("text",g,{x:pi===0?588:1265,y:y0-8.5,"font-size":34.5,textLength:pi===0?149:213,lengthAdjust:"spacingAndGlyphs"});
    cap.textContent=pi===0?"Observed":"CFS Forecast";
    
    
  }
  if(pi<4){
    latTickLabels.forEach(function(lab,i){
      const t=make("text",g,{x:lab==="0"?55:12,y:yScale(latTickValues[i],y0)+12,"font-size":34,textLength:lab==="0"?19:62,lengthAdjust:"spacingAndGlyphs"});
      t.textContent=lab;
      
      
    });
  }
  if(pi%4===3){
    lonTickLabels.forEach(function(lab,i){
      const t=make("text",g,{x:xScale(lonTickValues[i],x0),y:880,"font-size":34.4,"text-anchor":"middle"});
      t.textContent=lab;
      
      
    });
  }
});
// colorbar
const cb=document.getElementById("colorbar");
const cbX=229,cbW=604/colorClasses.length;
colorClasses.forEach(function(c,i){
  const r=make("rect",cb,{x:cbX+i*cbW,y:939.5,width:cbW,height:22,fill:c,stroke:"#000","stroke-width":1.5});
  
  
});
colorTicks.forEach(function(lab,i){
  const t=make("text",cb,{x:cbX+(i+1)*cbW+0.7,y:989.5,"font-size":30,"text-anchor":"middle"});
  t.textContent=lab;
  
  
});
</script>
</body></html>
